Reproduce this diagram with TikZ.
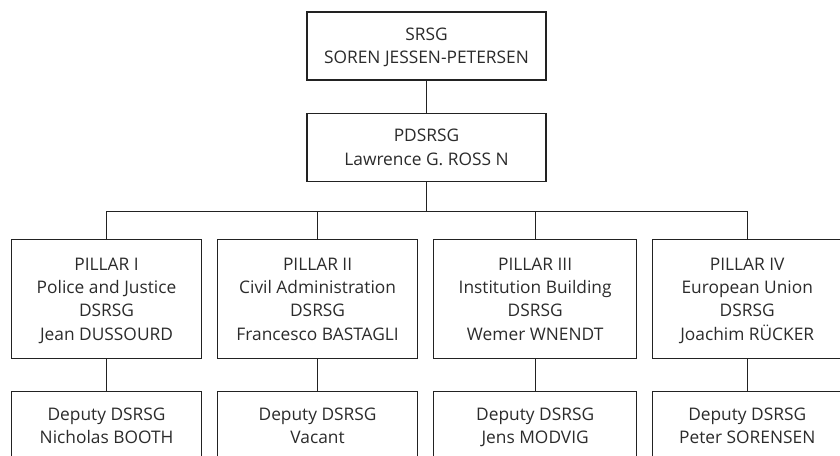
\documentclass[tikz,border=0pt]{standalone}
\usepackage{fontspec}
\setmainfont{Open Sans}
\usepackage{tikz}
\usetikzlibrary{calc,positioning}
\definecolor{boxline}{HTML}{222222}
\definecolor{boxtext}{HTML}{2B2B2B}

\begin{document}
\begin{tikzpicture}[
        x=0.75pt, y=-0.75pt,
        node distance=24pt and 11.25pt,
        font=\fontsize{13pt}{17.5pt}\selectfont,
        headstyle/.style={draw=boxline, line width=0.8pt, text=boxtext, align=center, text depth=0pt, minimum height=51pt, minimum width=179.25pt},
        pillarstyle/.style={draw=boxline, line width=0.8pt, text=boxtext, align=center, text depth=0pt, minimum height=89.25pt},
        deputystyle/.style={draw=boxline, line width=0.8pt, text=boxtext, align=center, text depth=0pt, minimum height=51pt},
        pathstyle/.style={draw=boxline, line width=0.8pt}
      ]
        \useasboundingbox (0,0) rectangle (840,455);
        \clip (0,0) rectangle (840,455);

        \node[headstyle] (SRSG) at (426.5,46)
          {SRSG\\SOREN JESSEN-PETERSEN};
        \node[headstyle, below=of SRSG] (PDSRSG)
          {PDSRSG\\Lawrence G. ROSS N};

        \node[pillarstyle, minimum width=142.5pt, anchor=north west] (PILLARI)
          at (11,239)
          {PILLAR I\\Police and Justice\\DSRSG\\Jean DUSSOURD};
        \node[pillarstyle, minimum width=150pt, right=of PILLARI] (PILLARII)
          {PILLAR II\\Civil Administration\\DSRSG\\Francesco BASTAGLI};
        \node[pillarstyle, minimum width=152.25pt, right=of PILLARII] (PILLARIII)
          {PILLAR III\\Institution Building\\DSRSG\\Wemer WNENDT};
        \node[pillarstyle, minimum width=141.75pt, right=of PILLARIII] (PILLARIV)
          {PILLAR IV\\European Union\\DSRSG\\Joachim RÜCKER};

        \node[deputystyle, minimum width=142.5pt, below=of PILLARI] (DEPI)
          {Deputy DSRSG\\Nicholas BOOTH};
        \node[deputystyle, minimum width=150pt, below=of PILLARII] (DEPII)
          {Deputy DSRSG\\Vacant};
        \node[deputystyle, minimum width=152.25pt, below=of PILLARIII] (DEPIII)
          {Deputy DSRSG\\Jens MODVIG};
        \node[deputystyle, minimum width=141.75pt, below=of PILLARIV] (DEPIV)
          {Deputy DSRSG\\Peter SORENSEN};

        \draw[pathstyle] (SRSG.south) -- (PDSRSG.north);
        \draw[pathstyle] (PDSRSG.south) |- ($(PDSRSG.south)!0.52!(PILLARI.north)$) -| (PILLARI.north);
        \draw[pathstyle] (PDSRSG.south) |- ($(PDSRSG.south)!0.52!(PILLARII.north)$) -| (PILLARII.north);
        \draw[pathstyle] (PDSRSG.south) |- ($(PDSRSG.south)!0.52!(PILLARIII.north)$) -| (PILLARIII.north);
        \draw[pathstyle] (PDSRSG.south) |- ($(PDSRSG.south)!0.52!(PILLARIV.north)$) -| (PILLARIV.north);
        \draw[pathstyle] (PILLARI.south) -- (DEPI.north);
        \draw[pathstyle] (PILLARII.south) -- (DEPII.north);
        \draw[pathstyle] (PILLARIII.south) -- (DEPIII.north);
        \draw[pathstyle] (PILLARIV.south) -- (DEPIV.north);
      \end{tikzpicture}
\end{document}
